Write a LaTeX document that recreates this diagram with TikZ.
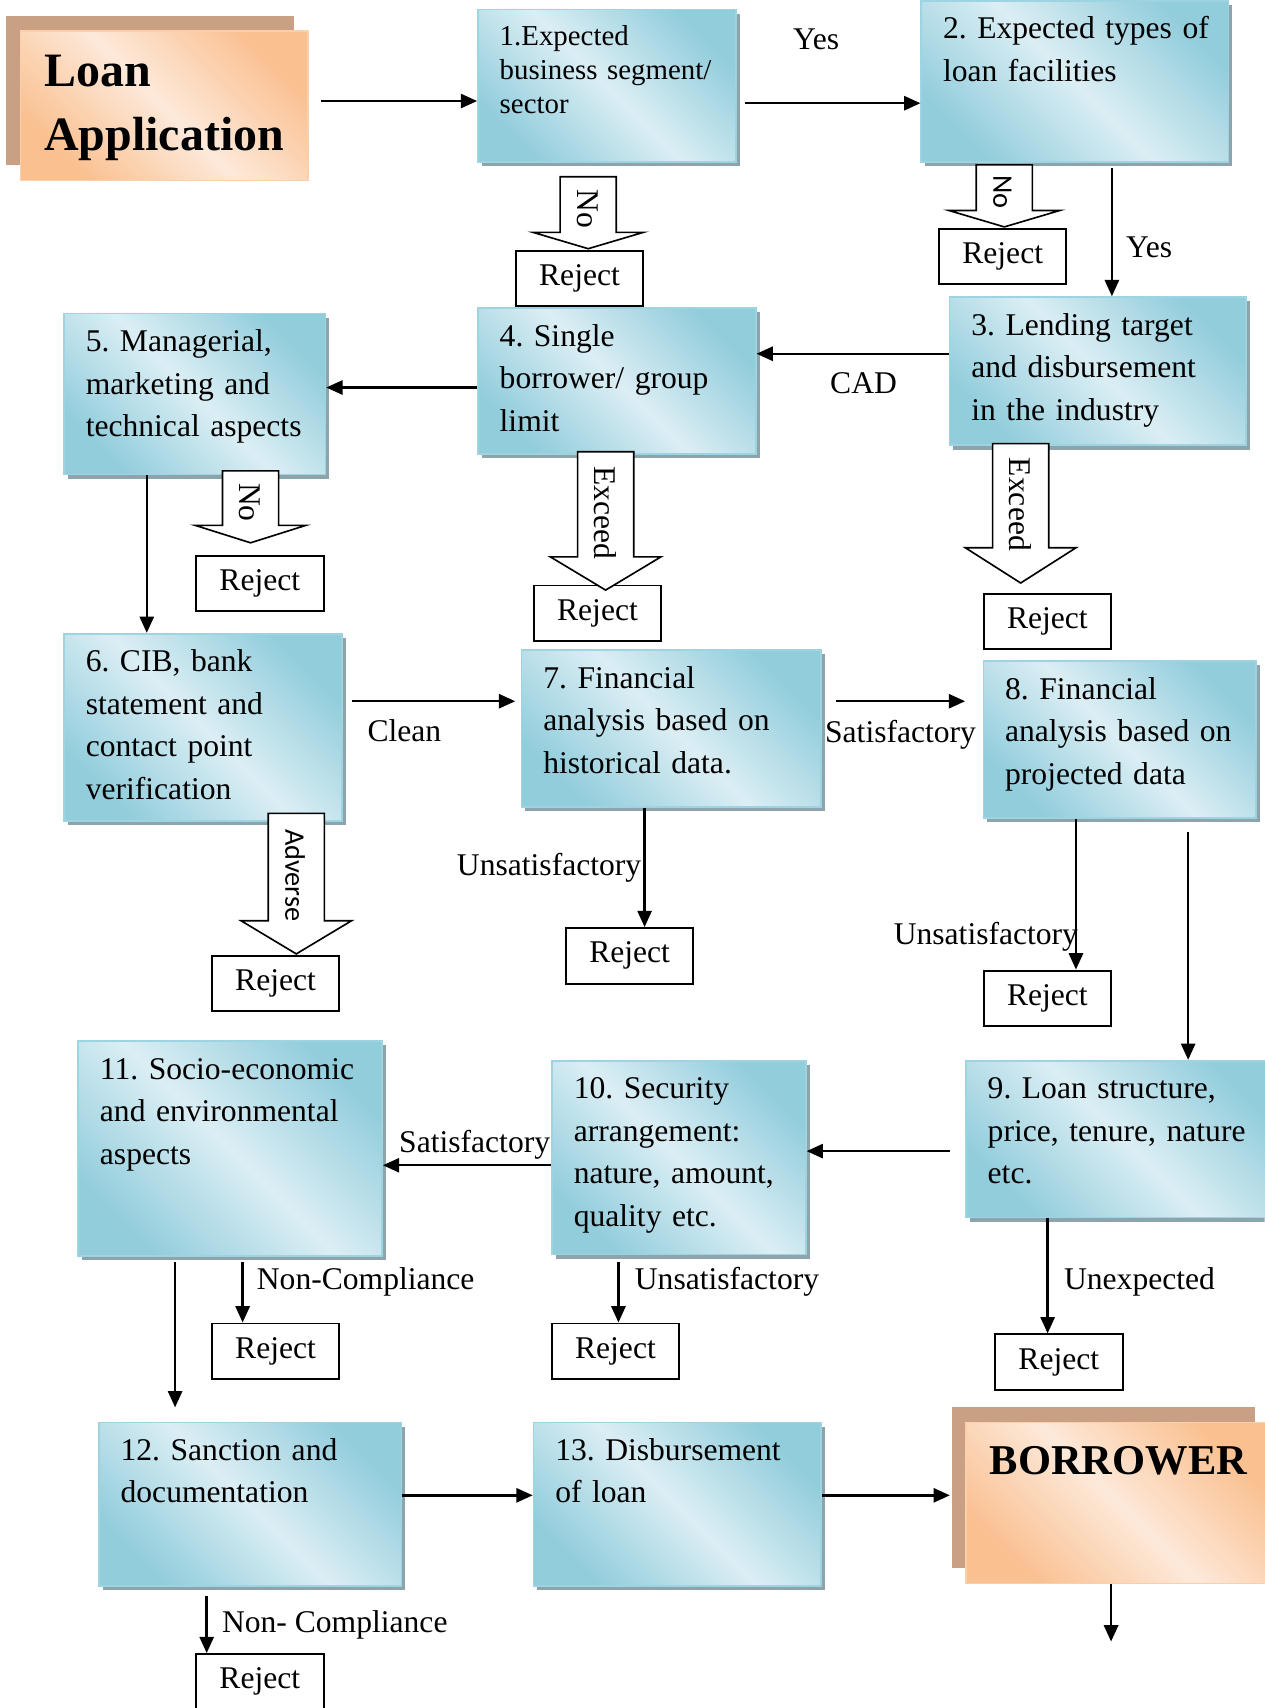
\documentclass[tikz,border=0pt]{standalone}
\usepackage{fontspec}
\setmainfont{Liberation Serif}
\newfontfamily\sansfam{Carlito}
\usepackage{tikz}
\usetikzlibrary{positioning, arrows.meta, calc, shapes.arrows, shadows}
\frenchspacing

\definecolor{aquadark}{HTML}{92CDDC}
\definecolor{aqualight}{HTML}{DBEEF4}
\definecolor{aquaedge}{HTML}{9ED3E1}
\definecolor{aquashade}{HTML}{8DA4AD}
\definecolor{peachdark}{HTML}{FAC090}
\definecolor{peachlight}{HTML}{FDE9DA}
\definecolor{peachedge}{HTML}{FBCFAA}
\definecolor{tanshade}{HTML}{C9A084}

\tikzset{
  base/.style={font=\fontsize{29}{39}\selectfont},
  stepbox/.style={base, rectangle, anchor=north west, draw=aquaedge, line width=1.5pt,
    left color=aquadark, right color=aquadark, middle color=aqualight, shading angle=-45,
    general shadow={fill=aquashade, shadow xshift=3.5pt, shadow yshift=-4pt},
    align=left, inner xsep=20pt, inner ysep=8pt, text height=27pt},
  endbox/.style={rectangle, anchor=north west, draw=peachedge, line width=1.5pt,
    left color=peachdark, right color=peachdark, middle color=peachlight, shading angle=-45,
    general shadow={fill=tanshade, shadow xshift=-13pt, shadow yshift=14pt},
    align=left, inner xsep=22pt, inner ysep=8pt},
  reject/.style={base, draw, line width=1.8pt, fill=white, minimum width=117pt, minimum height=51pt, inner sep=0pt},
  hollow/.style={base, single arrow, draw, line width=1.5pt, fill=white, rotate=-90, anchor=tip,
    single arrow head extend=25pt, inner xsep=2pt, inner ysep=15pt, text height=20pt, text depth=0pt},
  sanslbl/.style={font=\sansfam\fontsize{26}{30}\selectfont},
  flow/.style={line width=2.2pt, -{Triangle[length=15pt, width=13pt]}},
  lbl/.style={base, inner sep=2pt},
}

\begin{document}
\begin{tikzpicture}[x=1pt, y=-1pt]
\useasboundingbox (0,0) rectangle (1161,1568);
\clip (0,0) rectangle (1161,1568);

% Start and end
\node[endbox, font=\bfseries\fontsize{44}{58}\selectfont, text width=220pt, text height=43pt, text depth=78pt] (loan) at (18,28) {Loan\\Application};
\node[endbox, font=\bfseries\fontsize{39}{48}\selectfont, text width=234pt, text height=40pt, text depth=92pt] (borrower) at (886,1305) {BORROWER};

% Steps
\node[stepbox, font=\fontsize{26.5}{31}\selectfont, text width=197pt, text height=25pt, text depth=99pt] (b1) at (438,8) {1.Expected\\business segment/\\sector};
\node[stepbox, text width=242pt, text depth=105pt] (b2) at (845,0) {\mbox{2. Expected types of}\\loan facilities};
\node[stepbox, text width=232pt, text depth=93pt] (b3) at (871,272) {3. Lending target\\and disbursement\\in the industry};
\node[stepbox, text width=215pt, text depth=91pt] (b4) at (438,282) {4. Single\\borrower/ group\\limit};
\node[stepbox, text width=200pt, text depth=105pt] (b5) at (58,287) {5. Managerial,\\marketing and\\technical aspects};
\node[stepbox, text width=215pt, text depth=129pt] (b6) at (58,581) {6. CIB, bank\\statement and\\contact point\\verification};
\node[stepbox, text width=235pt, text depth=101pt] (b7) at (478,596) {7. Financial\\analysis based on\\historical data.};
\node[stepbox, text width=210pt, text depth=101pt] (b8) at (902,606) {8. Financial\\analysis based on\\projected data};
\node[stepbox, text width=250pt, text depth=101pt] (b9) at (886,973) {9. Loan structure,\\price, tenure, nature\\etc.};
\node[stepbox, text width=193pt, text depth=135pt] (b10) at (506,973) {10. Security\\arrangement:\\nature, amount,\\quality etc.};
\node[stepbox, text width=239pt, text depth=154pt] (b11) at (71,955) {11. Socio-economic\\and environmental\\aspects};
\node[stepbox, text width=238pt, text depth=107pt] (b12) at (90,1305) {12. Sanction and\\documentation};
\node[stepbox, text width=224pt, text depth=107pt] (b13) at (489,1305) {13. Disbursement\\of loan};

% Rejects
\node[reject] (rej1) at (532,255.5) {Reject};
\node[reject] (rej2) at (920.5,235.5) {Reject};
\node[reject] (rej3) at (961.5,570.5) {Reject};
\node[reject] (rej4) at (548.5,563) {Reject};
\node[reject] (rej5) at (238.5,535.5) {Reject};
\node[reject] (rej6) at (253,903) {Reject};
\node[reject] (rej7) at (578,877.5) {Reject};
\node[reject] (rej8) at (961.5,916.5) {Reject};
\node[reject] (rej9) at (972,1250.5) {Reject};
\node[reject] (rej10) at (565,1240.5) {Reject};
\node[reject] (rej11) at (253,1240.5) {Reject};
\node[reject] (rej12) at (238.5,1544) {Reject};

% Block arrows
\node[hollow, minimum height=66pt, single arrow tip angle=147] (no1) at ([xshift=8pt]rej1.north) {No};
\node[hollow, sanslbl, minimum height=57pt, single arrow tip angle=147] (no2) at ([xshift=1.5pt]rej2.north) {No};
\node[hollow, minimum height=66pt, single arrow tip angle=145] (no5) at ([xshift=-8.5pt,yshift=10pt]rej5.north) {No};
\node[hollow, minimum height=127pt, single arrow tip angle=118] (ex4) at ([xshift=7.5pt,yshift=-6pt]rej4.north) {Exceed};
\node[hollow, minimum height=128pt, single arrow tip angle=115] (ex3) at ([xshift=-24.5pt,yshift=8pt]rej3.north) {Exceed};
\node[hollow, sanslbl, minimum height=129pt, single arrow tip angle=118] (adv) at ([xshift=19pt]rej6.north) {Adverse};

% Main flow
\draw[flow] ([xshift=11pt,yshift=4.5pt]loan.east) -- ([yshift=4.5pt]loan.east -| b1.west);
\draw[flow] ([xshift=7pt,yshift=-16pt]b1.east) -- ([yshift=-16pt]b1.east -| b2.west)
  node[lbl, midway, above=46pt, xshift=-15pt] (yes1) {Yes};
\draw[flow] ([xshift=34pt,yshift=-5pt]b2.south) -- ([xshift=34pt]b2.south |- b3.north)
  node[lbl, pos=0.62, right=10pt] (yes2) {Yes};
\draw[flow] ([yshift=16pt]b3.west) -- ([yshift=16pt]b3.west -| b4.east)
  node[lbl, midway, below=14pt, xshift=10pt] (cad) {CAD};
\draw[flow] ([yshift=-6pt]b4.west) -- ([yshift=-6pt]b4.west -| b5.east);
\draw[flow] ([xshift=-44pt]b5.south) -- ([xshift=-44pt]b5.south |- b6.north);
\draw[flow] ([xshift=9pt,yshift=24pt]b6.east) -- ([xshift=-5pt,yshift=24pt]b6.east -| b7.west)
  node[lbl, midway, below=14pt, xshift=-27pt] (clean) {Clean};
\draw[flow] ([xshift=13pt,yshift=25pt]b7.east) -- ([xshift=-16pt,yshift=25pt]b7.east -| b8.west)
  node[lbl, midway, below=14pt] (sat1) {Satisfactory};
\draw[flow] ([xshift=63pt,yshift=-12pt]b8.south) -- ([xshift=63pt]b8.south |- b9.north);
\draw[flow] ([xshift=-14pt,yshift=-11pt]b9.west) -- ([yshift=-11pt]b9.west -| b10.east);
\draw[flow] ([yshift=-7pt]b10.west) -- ([yshift=-7pt]b10.west -| b11.east)
  node[lbl, midway, above=2pt, xshift=7pt] (sat2) {Satisfactory};
\draw[flow] ([xshift=-50.5pt,yshift=-5pt]b11.south) -- ([xshift=-50.5pt,yshift=13pt]b11.south |- b12.north);
\draw[flow] ([yshift=8pt]b12.east) -- ([yshift=8pt]b12.east -| b13.west);
\draw[flow] ([yshift=8pt]b13.east) -- ([xshift=-14pt,yshift=8pt]b13.east -| borrower.west);
\coordinate (out) at (1020,1507);
\draw[flow] (borrower.south -| out) -- (out);

% Reject arrows
\draw[flow] ([xshift=-24.5pt]b7.south) -- ([xshift=-24.5pt]b7.south |- rej7.north)
  node[lbl, midway, left=0pt] (uns1) {Unsatisfactory};
\draw[flow] ([xshift=-40pt]b8.south) -- ([xshift=-40pt]b8.south |- rej8.north)
  node[lbl, pos=0.78, anchor=east, xshift=5pt] (uns2) {Unsatisfactory};
\draw[flow] ([xshift=-55.5pt,yshift=-6pt]b10.south) -- ([xshift=-55.5pt]b10.south |- rej10.north)
  node[lbl, pos=0.33, right=12pt] (uns3) {Unsatisfactory};
\draw[flow] ([xshift=-70pt]b9.south) -- ([xshift=-70pt]b9.south |- rej9.north)
  node[lbl, pos=0.55, right=12pt] (unexp) {Unexpected};
\draw[flow] ([xshift=11.5pt,yshift=-5pt]b11.south) -- ([xshift=11.5pt]b11.south |- rej11.north)
  node[lbl, pos=0.33, right=10pt] (nc1) {Non-Compliance};
\draw[flow] ([xshift=-40pt,yshift=-9pt]b12.south) -- ([xshift=-40pt]b12.south |- rej12.north)
  node[lbl, midway, right=11pt] (nc2) {Non- Compliance};

\end{tikzpicture}
\end{document}
